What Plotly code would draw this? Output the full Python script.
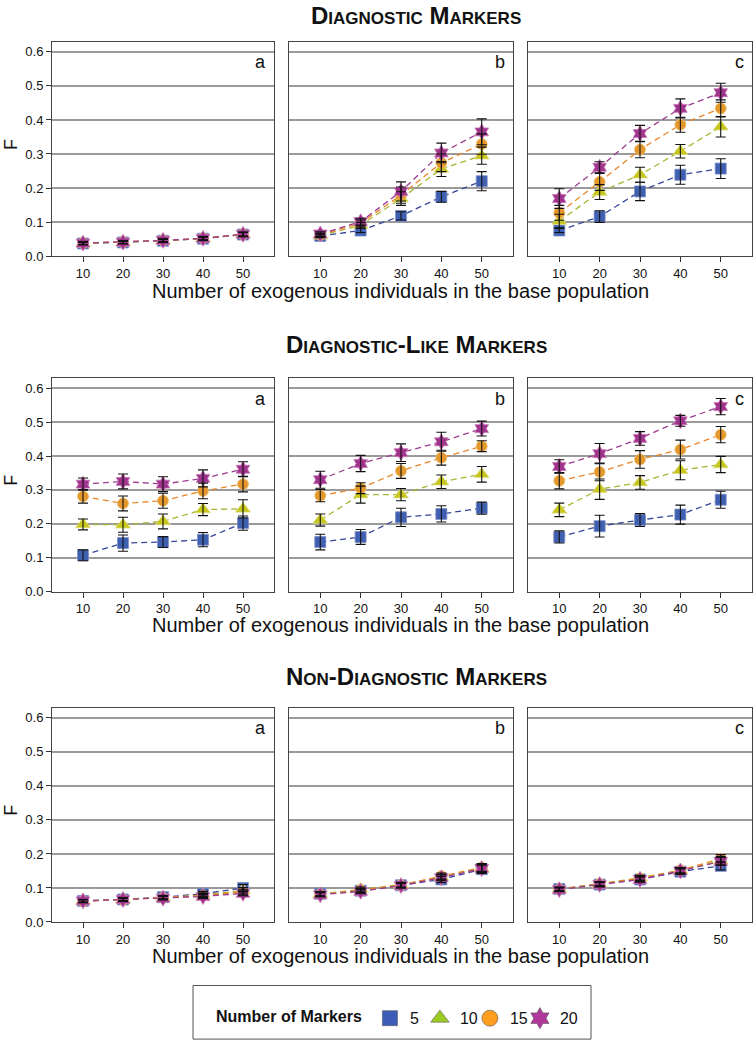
import plotly.graph_objects as go

W, H = 756, 1060

x_vals = [10, 20, 30, 40, 50]
series_names = ["5", "10", "15", "20"]
row_titles = ["Diagnostic Markers", "Diagnostic-Like Markers", "Non-Diagnostic Markers"]
panel_letters = ["a", "b", "c"]
x_title = "Number of exogenous individuals in the base population"
y_title = "F"
legend_title = "Number of Markers"

# mean F per panel, one list per number of markers (5, 10, 15, 20)
diag_a_f = [[0.037, 0.040, 0.045, 0.051, 0.063],
            [0.037, 0.040, 0.045, 0.052, 0.064],
            [0.038, 0.041, 0.046, 0.052, 0.064],
            [0.038, 0.041, 0.046, 0.052, 0.064]]
diag_a_err = [[0.004, 0.004, 0.004, 0.005, 0.006]] * 4
diag_b_f = [[0.059, 0.075, 0.118, 0.174, 0.220],
            [0.060, 0.091, 0.169, 0.256, 0.295],
            [0.062, 0.097, 0.179, 0.274, 0.329],
            [0.065, 0.101, 0.190, 0.303, 0.365]]
diag_b_err = [[0.005, 0.006, 0.012, 0.016, 0.028],
              [0.005, 0.008, 0.020, 0.022, 0.025],
              [0.005, 0.009, 0.024, 0.026, 0.030],
              [0.006, 0.010, 0.028, 0.029, 0.038]]
diag_c_f = [[0.075, 0.116, 0.190, 0.239, 0.257],
            [0.103, 0.188, 0.239, 0.308, 0.380],
            [0.127, 0.218, 0.313, 0.386, 0.434],
            [0.169, 0.261, 0.360, 0.434, 0.480]]
diag_c_err = [[0.006, 0.017, 0.027, 0.028, 0.029],
              [0.020, 0.022, 0.022, 0.020, 0.030],
              [0.022, 0.025, 0.024, 0.022, 0.025],
              [0.029, 0.016, 0.024, 0.028, 0.028]]

like_a_f = [[0.107, 0.143, 0.146, 0.153, 0.202],
            [0.198, 0.197, 0.207, 0.242, 0.244],
            [0.281, 0.260, 0.268, 0.297, 0.317],
            [0.317, 0.325, 0.317, 0.334, 0.361]]
like_a_err = [[0.016, 0.024, 0.016, 0.021, 0.021],
              [0.016, 0.022, 0.022, 0.018, 0.027],
              [0.020, 0.022, 0.022, 0.023, 0.023],
              [0.018, 0.022, 0.022, 0.025, 0.022]]
like_b_f = [[0.146, 0.161, 0.219, 0.229, 0.246],
            [0.211, 0.286, 0.286, 0.324, 0.346],
            [0.283, 0.305, 0.356, 0.395, 0.429],
            [0.330, 0.378, 0.410, 0.442, 0.481]]
like_b_err = [[0.023, 0.022, 0.027, 0.024, 0.018],
              [0.018, 0.025, 0.018, 0.020, 0.023],
              [0.018, 0.016, 0.022, 0.022, 0.016],
              [0.025, 0.024, 0.026, 0.028, 0.022]]
like_c_f = [[0.161, 0.193, 0.211, 0.227, 0.271],
            [0.241, 0.302, 0.322, 0.358, 0.375],
            [0.327, 0.353, 0.390, 0.419, 0.463],
            [0.369, 0.407, 0.452, 0.504, 0.546]]
like_c_err = [[0.018, 0.032, 0.019, 0.028, 0.025],
              [0.020, 0.030, 0.020, 0.028, 0.024],
              [0.024, 0.026, 0.026, 0.028, 0.024],
              [0.020, 0.030, 0.020, 0.016, 0.024]]

non_a_f = [[0.062, 0.066, 0.073, 0.083, 0.100],
           [0.062, 0.066, 0.072, 0.079, 0.093],
           [0.061, 0.065, 0.071, 0.078, 0.088],
           [0.062, 0.066, 0.070, 0.075, 0.084]]
non_a_err = [[0.004, 0.004, 0.005, 0.007, 0.010],
             [0.004, 0.004, 0.005, 0.006, 0.008],
             [0.004, 0.004, 0.005, 0.006, 0.008],
             [0.004, 0.004, 0.005, 0.006, 0.007]]
non_b_f = [[0.083, 0.092, 0.108, 0.125, 0.155],
           [0.082, 0.097, 0.110, 0.132, 0.158],
           [0.081, 0.094, 0.108, 0.135, 0.160],
           [0.080, 0.090, 0.107, 0.130, 0.157]]
non_b_err = [[0.006, 0.006, 0.007, 0.009, 0.012]] * 4
non_c_f = [[0.097, 0.110, 0.125, 0.148, 0.165],
           [0.097, 0.112, 0.130, 0.152, 0.180],
           [0.096, 0.112, 0.128, 0.152, 0.186],
           [0.095, 0.110, 0.125, 0.150, 0.178]]
non_c_err = [[0.005, 0.006, 0.007, 0.008, 0.012]] * 4

panels_f = [[diag_a_f, diag_b_f, diag_c_f],
            [like_a_f, like_b_f, like_c_f],
            [non_a_f, non_b_f, non_c_f]]
panels_err = [[diag_a_err, diag_b_err, diag_c_err],
              [like_a_err, like_b_err, like_c_err],
              [non_a_err, non_b_err, non_c_err]]

symbols = ["square", "triangle-up", "circle", "hexagram"]
marker_colors = ["#3f5fb0", "#c6c61c", "#e3972c", "#a0348c"]
marker_edges = ["#7f8fc8", "#dede80", "#f0c070", "#c87ab8"]
line_colors = ["#36469c", "#a8b432", "#e8862a", "#9c3c90"]
legend_colors = ["#3d5cb8", "#9bcc1f", "#ff9f1f", "#b0389c"]
marker_sizes = [11, 13, 11, 12]
legend_sizes = [15, 16, 16, 16]
legend_widths = [5, 5, 5, 24]

FONT = "Liberation Sans, Arial, sans-serif"

# panel geometry in page pixels
col_px = [(52, 274), (289, 513), (528, 752)]
row_px = [(42, 258), (381, 596), (713, 929)]
title_y = [16, 347, 682]
xlab_y = [293, 630, 963]


def px_x(p):
    return p / W


def px_y(p):
    return 1 - p / H


fig = go.Figure()
layout = {}
n = 0
for r in range(3):
    for c in range(3):
        n += 1
        sfx = "" if n == 1 else str(n)
        xa, ya = "x" + sfx, "y" + sfx
        layout["xaxis" + sfx] = dict(
            domain=[px_x(col_px[c][0]), px_x(col_px[c][1])], anchor=ya,
            range=[2.25, 57.75], tickvals=x_vals, ticks="outside", ticklen=5,
            tickcolor="#333", showline=True, mirror=True, linecolor="#444",
            linewidth=1, showgrid=False, zeroline=False, fixedrange=True,
            tickfont=dict(size=13, color="#111", family=FONT),
        )
        layout["yaxis" + sfx] = dict(
            domain=[px_y(row_px[r][1]), px_y(row_px[r][0])], anchor=xa,
            range=[0, 0.63], dtick=0.1, tickformat=".1f",
            ticks="outside" if c == 0 else "", ticklen=5, tickcolor="#333",
            showticklabels=(c == 0), showline=True, mirror=True,
            linecolor="#444", linewidth=1, showgrid=True, gridcolor="#9a9a9a",
            gridwidth=1.5, zeroline=False, fixedrange=True,
            tickfont=dict(size=13, color="#111", family=FONT),
        )
        f_vals = panels_f[r][c]
        e_vals = panels_err[r][c]
        for s in range(4):
            fig.add_trace(go.Scatter(
                x=x_vals, y=f_vals[s], xaxis=xa, yaxis=ya,
                mode="lines+markers", showlegend=False, hoverinfo="skip",
                line=dict(color=line_colors[s], width=1.3, dash="6px,4px"),
                marker=dict(symbol=symbols[s], size=marker_sizes[s],
                            color=marker_colors[s],
                            line=dict(color=marker_edges[s], width=0.8)),
            ))
        # error bars drawn on top of the markers
        for s in range(4):
            fig.add_trace(go.Scatter(
                x=x_vals, y=f_vals[s], xaxis=xa, yaxis=ya, mode="markers",
                showlegend=False, hoverinfo="skip",
                marker=dict(size=1, opacity=0),
                error_y=dict(type="data", array=e_vals[s], color="#111",
                             thickness=1.1, width=5),
            ))
        fig.add_annotation(
            xref=xa, yref=ya, x=56.3, y=0.569, text=panel_letters[c],
            showarrow=False, xanchor="right", yanchor="middle",
            font=dict(size=18, color="#111", family=FONT),
        )

# legend entries
for s in range(4):
    fig.add_trace(go.Scatter(
        x=[None], y=[None], mode="markers", name=series_names[s],
        legendwidth=legend_widths[s],
        marker=dict(symbol=symbols[s], size=legend_sizes[s],
                    color=legend_colors[s], line=dict(color="#555", width=0.6)),
    ))

annotations = []
for r in range(3):
    annotations.append(dict(
        xref="paper", yref="paper", x=px_x(416), y=px_y(title_y[r]),
        text=row_titles[r], showarrow=False, xanchor="center", yanchor="middle",
        font=dict(size=24, color="#111", family=FONT, weight="bold",
                  variant="small-caps"),
    ))
    annotations.append(dict(
        xref="paper", yref="paper", x=px_x(400), y=px_y(xlab_y[r]),
        text=x_title, showarrow=False, xanchor="center", yanchor="middle",
        font=dict(size=20, color="#111", family=FONT),
    ))
    annotations.append(dict(
        xref="paper", yref="paper", x=px_x(11),
        y=px_y((row_px[r][0] + row_px[r][1]) / 2 - 4),
        text=y_title, showarrow=False, textangle=-90,
        xanchor="center", yanchor="middle",
        font=dict(size=18, color="#111", family=FONT),
    ))
for a in annotations:
    fig.add_annotation(**a)

fig.add_shape(type="rect", xref="paper", yref="paper",
              x0=px_x(193), x1=px_x(591), y0=px_y(1047), y1=px_y(993),
              line=dict(color="#555", width=1))

fig.update_layout(
    layout,
    width=W, height=H,
    margin=dict(l=0, r=0, t=0, b=0),
    paper_bgcolor="white", plot_bgcolor="white",
    font=dict(family=FONT, color="#111"),
    showlegend=True,
    legend=dict(
        orientation="h", x=px_x(214), y=px_y(1026), xanchor="left",
        yanchor="middle", bgcolor="rgba(0,0,0,0)", itemwidth=30,
        title=dict(text="<b>" + legend_title + "</b>", side="left",
                   font=dict(size=16, color="#111", family=FONT)),
        font=dict(size=16, color="#111", family=FONT),
        traceorder="normal", itemclick=False, itemdoubleclick=False,
    ),
)

# drop the default 8px body margin so the figure sits at the page corner
fig.write_html("out.html", config={"displayModeBar": False},
               post_script="document.body.style.margin='0';")
